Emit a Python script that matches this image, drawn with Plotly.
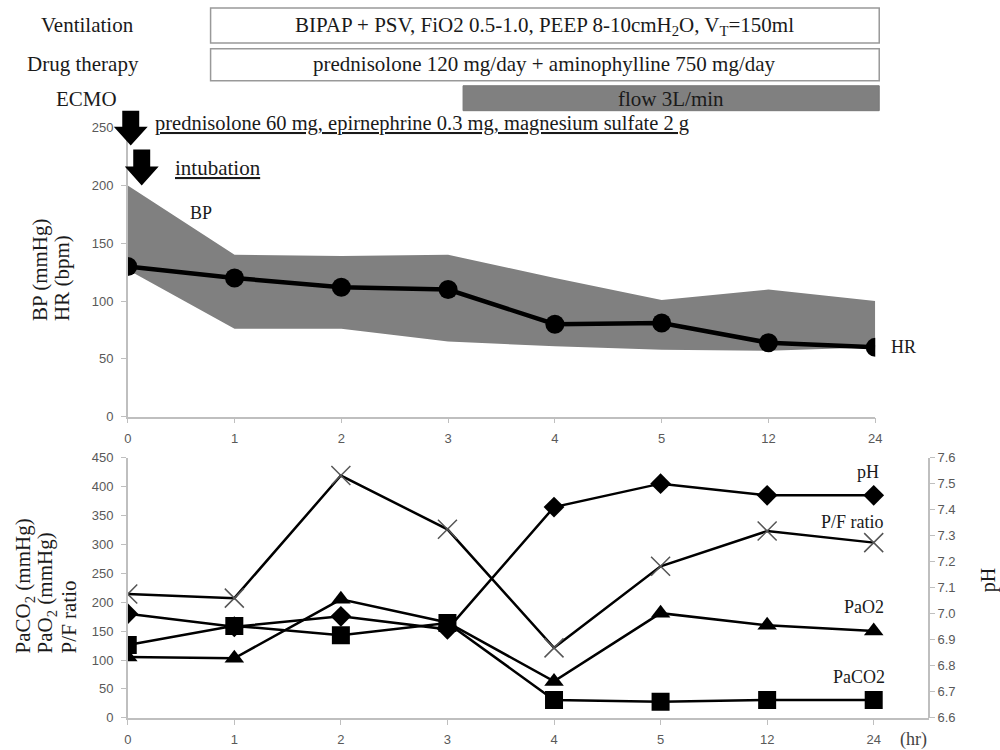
import plotly.graph_objects as go

# ---------------- data ----------------
time_labels = ["0", "1", "2", "3", "4", "5", "12", "24"]
hr = [130, 120, 112, 110, 80, 81, 64, 60]
bp_upper = [200, 140, 139, 140, 120, 101, 110, 100]
bp_lower = [127, 76, 76, 65, 61, 58, 57, 60]

pf_ratio = [214, 207, 419, 326, 121, 262, 323, 303]
paO2 = [105, 103, 205, 165, 63, 181, 160, 150]
paCO2 = [126, 159, 143, 164, 31, 28, 31, 31]
ph = [7.00, 6.95, 6.99, 6.94, 7.41, 7.50, 7.455, 7.455]

top_yticks = [0, 50, 100, 150, 200, 250]
bot_yticks = [0, 50, 100, 150, 200, 250, 300, 350, 400, 450]
ph_ticks = [6.6, 6.7, 6.8, 6.9, 7.0, 7.1, 7.2, 7.3, 7.4, 7.5, 7.6]

W, H = 1000, 750
xs = list(range(len(time_labels)))


def px(x):
    return ((x - 2) / 0.991) / W


def py(y):
    return 1 - ((y - 5) / 0.983) / H


SERIF = "Liberation Serif"
TICKFONT = dict(family="Liberation Sans", size=13, color="#595959")
AXCOL = "#bfbfbf"

fig = go.Figure()

# BP band
fig.add_trace(go.Scatter(x=xs, y=bp_lower, mode="lines", line=dict(width=0, color="#808080"),
                         xaxis="x", yaxis="y", showlegend=False, hoverinfo="skip"))
fig.add_trace(go.Scatter(x=xs, y=bp_upper, mode="lines", line=dict(width=0, color="#808080"),
                         fill="tonexty", fillcolor="#808080",
                         xaxis="x", yaxis="y", showlegend=False, hoverinfo="skip"))
# HR
fig.add_trace(go.Scatter(x=xs, y=hr, mode="lines+markers",
                         line=dict(color="black", width=4.5),
                         marker=dict(symbol="circle", size=19, color="black"),
                         xaxis="x", yaxis="y", showlegend=False))

# bottom chart
fig.add_trace(go.Scatter(x=xs, y=pf_ratio, mode="lines+markers",
                         line=dict(color="black", width=2.5),
                         marker=dict(symbol="x-thin", size=19, line=dict(color="#555", width=1.5)),
                         xaxis="x2", yaxis="y2", showlegend=False))
fig.add_trace(go.Scatter(x=xs, y=paO2, mode="lines+markers",
                         line=dict(color="black", width=2.5),
                         marker=dict(symbol="triangle-up", size=17, color="black"),
                         xaxis="x2", yaxis="y2", showlegend=False))
fig.add_trace(go.Scatter(x=xs, y=paCO2, mode="lines+markers",
                         line=dict(color="black", width=2.5),
                         marker=dict(symbol="square", size=18, color="black"),
                         xaxis="x2", yaxis="y2", showlegend=False))
fig.add_trace(go.Scatter(x=xs, y=ph, mode="lines+markers",
                         line=dict(color="black", width=2.5),
                         marker=dict(symbol="diamond", size=16, color="black"),
                         xaxis="x2", yaxis="y3", showlegend=False))

common_x = dict(tickmode="array", tickvals=xs, ticktext=time_labels, showgrid=False,
                showline=True, linecolor=AXCOL, linewidth=1.5, ticks="outside",
                ticklen=5, tickcolor=AXCOL, tickfont=TICKFONT, zeroline=False,
                ticklabelstandoff=4)
common_y = dict(showgrid=False, showline=True, linecolor=AXCOL, linewidth=1.5,
                ticks="outside", ticklen=5, tickcolor=AXCOL, tickfont=TICKFONT, zeroline=False)

fig.update_layout(
    width=W, height=H,
    margin=dict(l=0, r=0, t=0, b=0),
    plot_bgcolor="white", paper_bgcolor="white",
    xaxis=dict(domain=[px(126), px(875)], range=[0, 7], anchor="y", **common_x),
    yaxis=dict(domain=[py(416), py(126)], range=[0, 250], tickvals=top_yticks,
               anchor="x", ticklabelstandoff=5, **common_y),
    xaxis2=dict(domain=[px(126), px(929)], range=[0, 7.52], anchor="y2", **common_x),
    yaxis2=dict(domain=[py(718), py(457)], range=[0, 450], tickvals=bot_yticks,
                anchor="x2", ticklabelstandoff=5, **common_y),
    yaxis3=dict(overlaying="y2", side="right", anchor="free", position=px(929),
                range=[6.6, 7.6], tickvals=ph_ticks, ticktext=[f"{v:.1f}" for v in ph_ticks],
                **common_y),
)

shapes = []
# top boxes
shapes.append(dict(type="rect", xref="paper", yref="paper", x0=px(209), x1=px(879),
                   y0=py(41), y1=py(6), line=dict(color="#999", width=1.5), fillcolor="white"))
shapes.append(dict(type="rect", xref="paper", yref="paper", x0=px(209), x1=px(879),
                   y0=py(79), y1=py(47), line=dict(color="#999", width=1.5), fillcolor="white"))
shapes.append(dict(type="rect", xref="paper", yref="paper", x0=px(462), x1=px(879),
                   y0=py(109), y1=py(84), line=dict(color="#777", width=1), fillcolor="#808080"))


def arrow(cx, top, head_start, tip, shaft_w, head_w):
    pts = [(cx - shaft_w / 2, top), (cx + shaft_w / 2, top), (cx + shaft_w / 2, head_start),
           (cx + head_w / 2, head_start), (cx, tip), (cx - head_w / 2, head_start),
           (cx - shaft_w / 2, head_start)]
    path = "M " + " L ".join(f"{px(x):.5f},{py(y):.5f}" for x, y in pts) + " Z"
    return dict(type="path", xref="paper", yref="paper", path=path,
                fillcolor="black", line=dict(color="black", width=0))


shapes.append(arrow(129, 109, 125, 144, 17, 34))
shapes.append(arrow(140, 148, 165, 184, 17, 34))
fig.update_layout(shapes=shapes)

ann = []


def text(x, y, s, size=16, xanchor="center", yanchor="middle", color="#1a1a1a", angle=0,
         align="center"):
    ann.append(dict(xref="paper", yref="paper", x=px(x), y=py(y), text=s, showarrow=False,
                    xanchor=xanchor, yanchor=yanchor, textangle=angle, align=align,
                    font=dict(family=SERIF, size=size, color=color)))


text(86, 23, "Ventilation", 21)
text(81, 62, "Drug therapy", 21)
text(85, 97, "ECMO", 21)
text(544, 24, "BIPAP + PSV, FiO2 0.5-1.0, PEEP 8-10cmH<sub>2</sub>O, V<sub>T</sub>=150ml", 21)
text(544, 62, "prednisolone 120 mg/day + aminophylline 750 mg/day", 21)
text(670, 97, "flow 3L/min", 21)
text(151, 122, "<u>prednisolone 60 mg, epirnephrine 0.3 mg, magnesium sulfate 2 g</u>", 20.5,
     xanchor="left")
text(171, 166, "<u>intubation</u>", 21, xanchor="left")

text(199, 212, "BP", 18)
text(889, 346, "HR", 18, xanchor="left")
text(881, 471, "pH", 18, xanchor="right")
text(886, 522, "P/F ratio", 18, xanchor="right")
text(886, 607, "PaO2", 18, xanchor="right")
text(887, 677, "PaCO2", 18, xanchor="right")
text(913, 740, "(hr)", 18, color="#444")

# axis titles (rotated)
text(38, 322, "BP (mmHg)", 21, angle=-90, yanchor="bottom")
text(60, 322, "HR (bpm)", 21, angle=-90, yanchor="bottom")
text(22, 655, "PaCO<sub>2</sub> (mmHg)", 21, angle=-90, yanchor="bottom")
text(44, 655, "PaO<sub>2</sub> (mmHg)", 21, angle=-90, yanchor="bottom")
text(67, 655, "P/F ratio", 21, angle=-90, yanchor="bottom")
text(988, 580, "pH", 20, angle=-90)

fig.update_layout(annotations=ann)

fig.write_html("out.html")
